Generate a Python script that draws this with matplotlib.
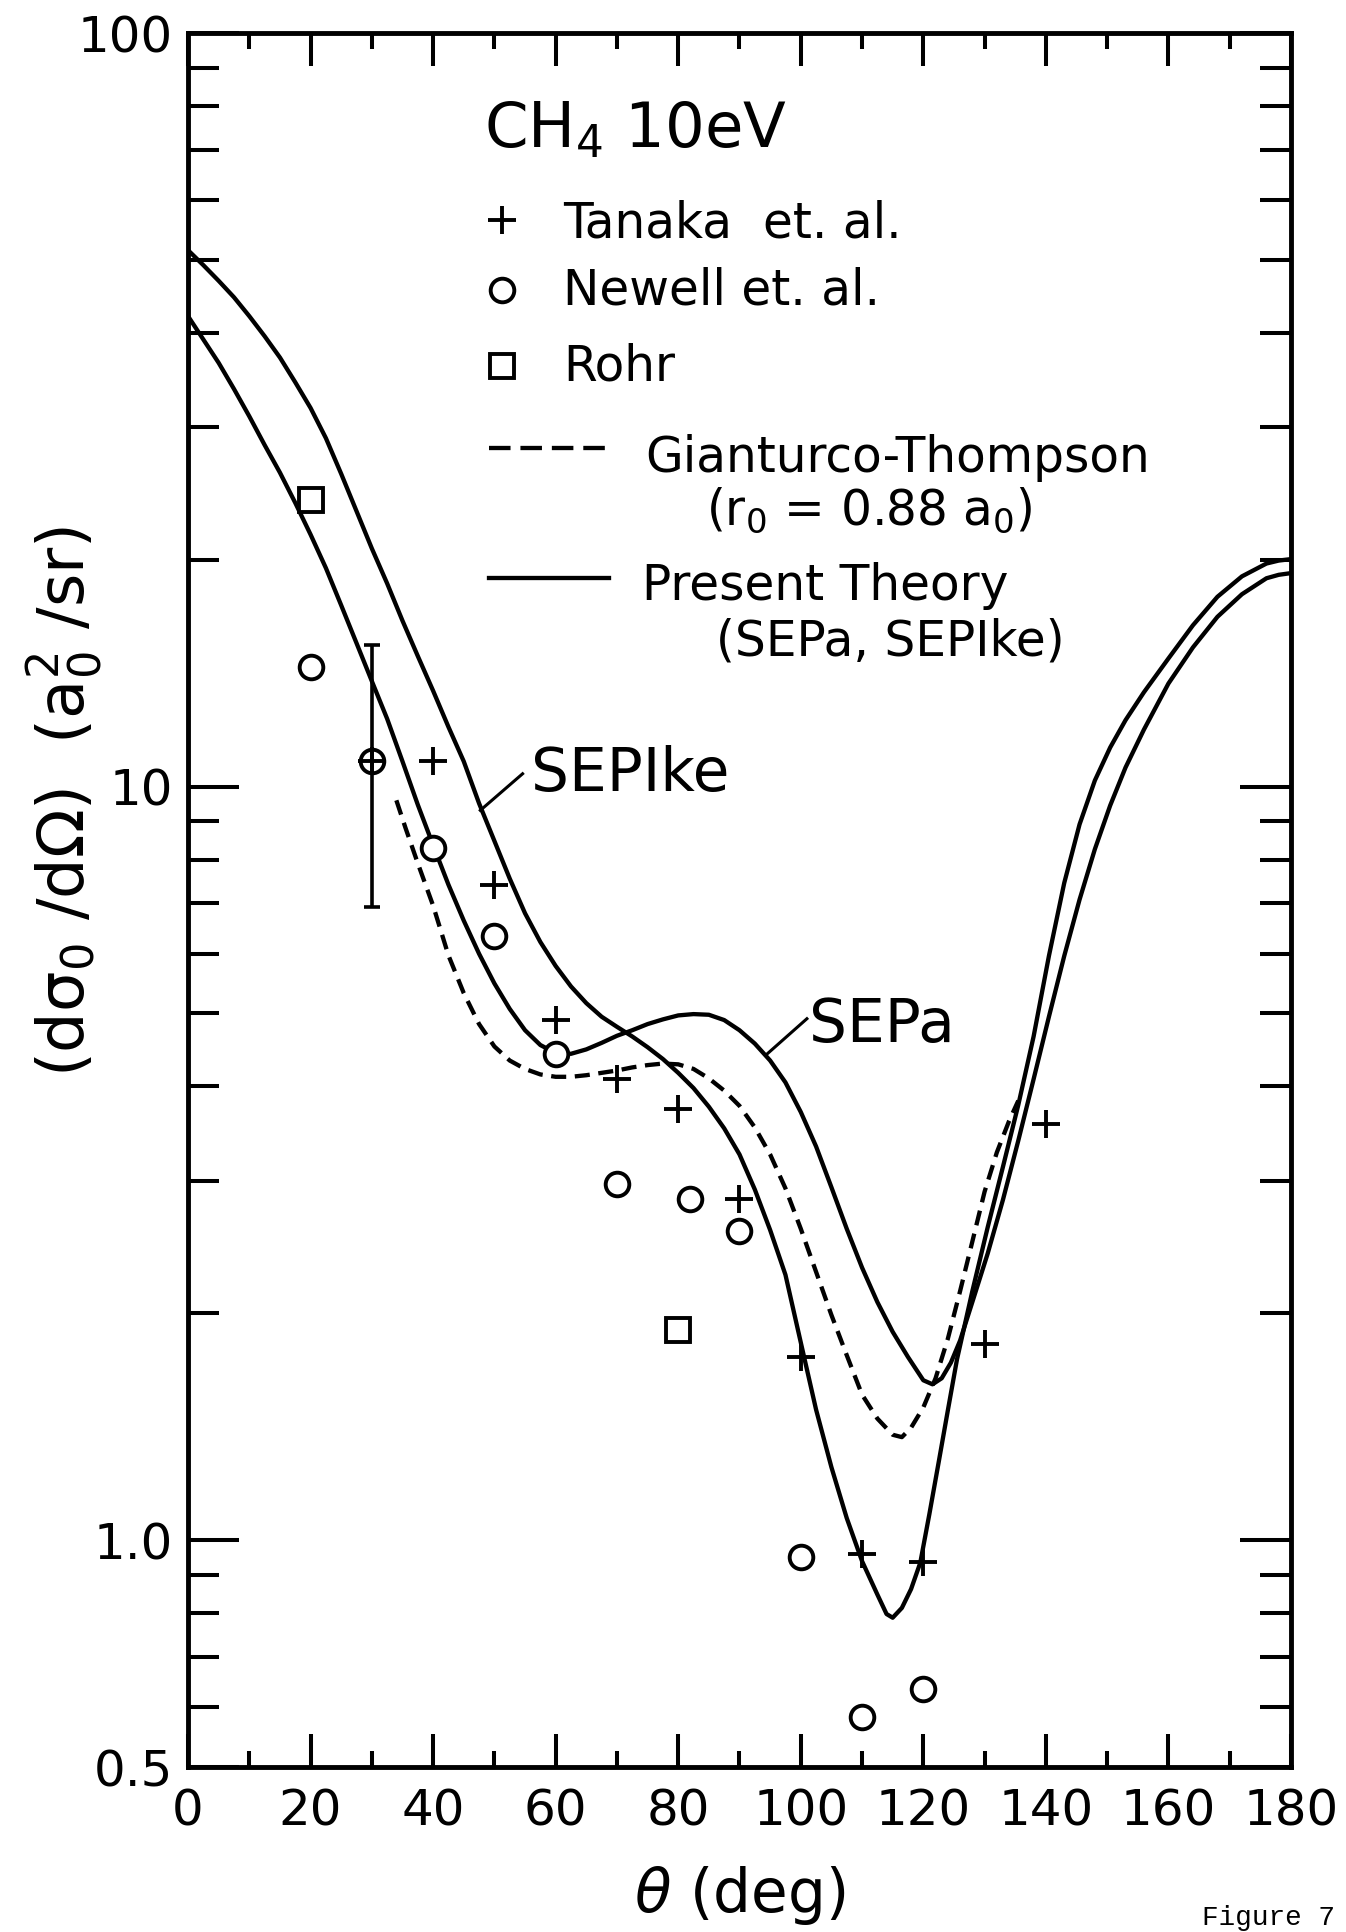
import matplotlib
matplotlib.use('Agg')
import matplotlib.pyplot as plt
from matplotlib.ticker import FixedLocator, NullFormatter

plt.rcParams['font.family'] = ['DejaVu Sans']
plt.rcParams['mathtext.fontset'] = 'dejavusans'

# measured cross sections, theta in deg, dsigma/dOmega in a0^2/sr
TANAKA_THETA = [30, 40, 50, 60, 70, 80, 90, 100, 110, 120, 130, 140]
TANAKA_DCS = [10.8, 10.8, 7.4, 4.9, 4.09, 3.73, 2.84, 1.75, 0.96, 0.935, 1.82, 3.57]

NEWELL_THETA = [20, 30, 40, 50, 60, 70, 82, 90, 100, 110, 120]
NEWELL_DCS = [14.4, 10.8, 8.3, 6.34, 4.42, 2.97, 2.84, 2.57, 0.95, 0.583, 0.634]

# error bar on the Newell point at 30 deg
ERR_THETA = [30]
ERR_DCS = [10.8]
ERR_LOW = [6.92]
ERR_HIGH = [15.4]

ROHR_THETA = [20, 80]
ROHR_DCS = [24.0, 1.90]

# theory curves
SEPIKE_THETA = [0, 2.5, 5, 7.5, 10, 12.5, 15, 17.5, 20, 22.5, 25, 27.5, 30, 32.5, 35,
                37.5, 40, 42.5, 45, 47.5, 50, 52.5, 55, 57.5, 60, 62.5, 65, 67.5, 70,
                72.5, 75, 77.5, 80, 82.5, 85, 87.5, 90, 92.5, 95, 97.5, 100, 102.5,
                105, 107.5, 110, 112.5, 114, 115, 116.5, 118, 119.5, 121, 122.5, 124,
                125.5, 128, 130.5, 133, 135.5, 138, 140.5, 143, 145.5, 148, 150.5, 153,
                156, 160, 164, 168, 172, 176, 178, 180]
SEPIKE_DCS = [51.5, 49.2, 46.9, 44.6, 42.1, 39.6, 37.1, 34.4, 31.8, 29.0, 26.0, 23.2,
              20.7, 18.6, 16.6, 14.9, 13.4, 12.0, 10.8, 9.5, 8.47, 7.55, 6.79, 6.22,
              5.78, 5.43, 5.16, 4.95, 4.80, 4.66, 4.51, 4.35, 4.17, 3.98, 3.76, 3.52,
              3.25, 2.92, 2.58, 2.25, 1.83, 1.49, 1.25, 1.07, 0.938, 0.847, 0.798,
              0.789, 0.813, 0.861, 0.933, 1.084, 1.268, 1.486, 1.738, 2.14, 2.60, 3.13,
              3.78, 4.66, 5.96, 7.45, 8.91, 10.19, 11.27, 12.25, 13.34, 14.79, 16.37,
              17.86, 19.01, 19.77, 19.95, 20.04]

SEPA_THETA = [0, 2.5, 5, 7.5, 10, 12.5, 15, 17.5, 20, 22.5, 25, 27.5, 30, 32.5, 35,
              37.5, 40, 42.5, 45, 47.5, 50, 52.5, 55, 57.5, 60, 62.5, 65, 67.5, 70,
              72.5, 75, 77.5, 80, 82.5, 85, 87.5, 90, 92.5, 95, 97.5, 100, 102.5, 105,
              107.5, 110, 112.5, 115, 117.5, 120, 121.5, 123, 124.5, 126, 128, 130.5,
              133, 135.5, 138, 140.5, 143, 145.5, 148, 150.5, 153, 156, 160, 164, 168,
              172, 176, 178, 180]
SEPA_DCS = [42.1, 39.2, 36.5, 33.7, 31.0, 28.4, 26.1, 23.8, 21.6, 19.5, 17.4, 15.5,
            13.8, 12.3, 10.8, 9.46, 8.36, 7.41, 6.64, 6.0, 5.48, 5.07, 4.75, 4.54, 4.43,
            4.42, 4.48, 4.57, 4.67, 4.75, 4.84, 4.91, 4.97, 4.99, 4.98, 4.90, 4.75,
            4.56, 4.33, 4.05, 3.70, 3.33, 2.94, 2.59, 2.30, 2.07, 1.89, 1.75, 1.63,
            1.61, 1.64, 1.72, 1.84, 2.07, 2.40, 2.83, 3.39, 4.09, 4.95, 5.96, 7.08,
            8.26, 9.44, 10.6, 11.9, 13.7, 15.3, 16.8, 18.0, 18.9, 19.1, 19.2]

GT_THETA = [34, 35.5, 37.5, 40, 42.5, 45, 47.5, 50, 52.5, 55, 57.5, 60, 62.5, 65, 67.5,
            70, 72.5, 75, 77.5, 80, 82.5, 85, 87.5, 90, 92.5, 95, 97.5, 100, 102.5,
            105, 107.5, 110, 112.5, 115, 116.5, 118, 120, 122, 124, 126, 128, 130,
            132, 134, 135.5]
GT_DCS = [9.59, 8.81, 7.91, 6.95, 5.97, 5.32, 4.84, 4.52, 4.33, 4.22, 4.15, 4.12, 4.12,
          4.14, 4.17, 4.20, 4.24, 4.27, 4.29, 4.28, 4.22, 4.10, 3.95, 3.77, 3.53, 3.25,
          2.93, 2.59, 2.27, 1.99, 1.76, 1.56, 1.45, 1.38, 1.37, 1.41, 1.50, 1.64, 1.85,
          2.14, 2.49, 2.90, 3.27, 3.60, 3.83]

Y_TICKS = [0.5, 1.0, 10, 100]
Y_TICK_LABELS = ['0.5', '1.0', '10', '100']
Y_MINOR = [0.6, 0.7, 0.8, 0.9, 2, 3, 4, 5, 6, 7, 8, 9, 20, 30, 40, 50, 60, 70, 80, 90]
X_TICKS = list(range(0, 181, 20))
X_MINOR = list(range(10, 180, 20))

LW = 3.1
MS = 17
MEW = 2.8
DASH = (3.5, 2.0)
KEY_FS = 35


def plot_chart():
    fig = plt.figure(figsize=(13.46, 19.32), dpi=100)
    ax = fig.add_axes([0.1397, 0.0854, 0.8194, 0.8975])

    ax.set_yscale('log')
    ax.set_xlim(0, 180)
    ax.set_ylim(0.5, 100)

    # theory curves
    ax.plot(SEPIKE_THETA, SEPIKE_DCS, color='black', lw=LW, zorder=2)
    ax.plot(SEPA_THETA, SEPA_DCS, color='black', lw=LW, zorder=2)
    ax.plot(GT_THETA, GT_DCS, color='black', lw=LW, dashes=DASH, zorder=2)

    # experiments
    ax.plot(NEWELL_THETA, NEWELL_DCS, ls='none', marker='o', ms=MS, mfc='white',
            mec='black', mew=MEW, zorder=4)
    ax.plot(ROHR_THETA, ROHR_DCS, ls='none', marker='s', ms=MS, mfc='white',
            mec='black', mew=MEW, zorder=4)
    yerr = [[v - lo for v, lo in zip(ERR_DCS, ERR_LOW)],
            [hi - v for v, hi in zip(ERR_DCS, ERR_HIGH)]]
    ax.errorbar(ERR_THETA, ERR_DCS, yerr=yerr, fmt='none', ecolor='black',
                elinewidth=2.6, capsize=6, capthick=2.6, zorder=5)
    ax.plot(TANAKA_THETA, TANAKA_DCS, ls='none', marker='+', ms=19.5, mec='black',
            mew=MEW, zorder=6)

    # curve labels with pointers
    ax.plot([47.7, 54.6], [9.3, 10.4], color='black', lw=2.2)
    ax.text(56, 9.88, 'SEPIke', fontsize=43, va='baseline', ha='left')
    ax.plot([94.4, 101.0], [4.41, 4.92], color='black', lw=2.2)
    ax.text(101.3, 4.58, 'SEPa', fontsize=43, va='baseline', ha='left')

    # key drawn inside the frame
    tr = ax.transAxes
    ax.text(0.2684, 0.9337, 'CH$_4$ 10eV', transform=tr, fontsize=45, va='baseline')
    ax.plot([0.2847], [0.8922], transform=tr, marker='+', ms=19.5, mec='black',
            mew=MEW, clip_on=False)
    ax.text(0.340, 0.8818, 'Tanaka  et. al.', transform=tr, fontsize=KEY_FS,
            va='baseline')
    ax.plot([0.2847], [0.8518], transform=tr, marker='o', ms=MS, mfc='white',
            mec='black', mew=MEW, clip_on=False)
    ax.text(0.340, 0.8437, 'Newell et. al.', transform=tr, fontsize=KEY_FS,
            va='baseline')
    ax.plot([0.2847], [0.8080], transform=tr, marker='s', ms=MS, mfc='white',
            mec='black', mew=MEW, clip_on=False)
    ax.text(0.340, 0.7999, 'Rohr', transform=tr, fontsize=KEY_FS, va='baseline')
    ax.plot([0.2729, 0.3817], [0.7607, 0.7607], transform=tr, color='black', lw=LW,
            dashes=(5, 2.3))
    ax.text(0.4143, 0.7468, 'Gianturco-Thompson', transform=tr, fontsize=KEY_FS,
            va='baseline')
    ax.text(0.470, 0.7163, '(r$_0$ = 0.88 a$_0$)', transform=tr, fontsize=KEY_FS,
            va='baseline')
    ax.plot([0.2729, 0.3817], [0.6857, 0.6857], transform=tr, color='black', lw=LW)
    ax.text(0.4116, 0.6730, 'Present Theory', transform=tr, fontsize=KEY_FS,
            va='baseline')
    ax.text(0.4787, 0.6413, '(SEPa, SEPIke)', transform=tr, fontsize=KEY_FS,
            va='baseline')

    # axes frame and ticks
    for side in ax.spines.values():
        side.set_linewidth(3.5)
    ax.set_xticks(X_TICKS)
    ax.set_xticklabels([str(t) for t in X_TICKS])
    ax.xaxis.set_minor_locator(FixedLocator(X_MINOR))
    ax.set_yticks(Y_TICKS)
    ax.set_yticklabels(Y_TICK_LABELS)
    ax.yaxis.set_minor_locator(FixedLocator(Y_MINOR))
    ax.yaxis.set_minor_formatter(NullFormatter())
    ax.tick_params(which='both', direction='in', top=True, right=True, width=2.9,
                   labelsize=36)
    ax.tick_params(axis='x', which='major', length=24, pad=15)
    ax.tick_params(axis='x', which='minor', length=11.5)
    ax.tick_params(axis='y', which='major', length=37, pad=11)
    ax.tick_params(axis='y', which='minor', length=22)

    ax.set_xlabel(r'$\theta$ (deg)', fontsize=43, labelpad=20)
    fig.text(0.0475, 0.5854, '(dσ$_0$ /dΩ)  (a$_0^2$ /sr)', rotation=90, fontsize=46,
             ha='center', va='center')
    fig.text(0.893, 0.0036, 'Figure 7', family=['Liberation Mono', 'DejaVu Sans Mono'],
             fontsize=20, va='baseline')

    fig.savefig('out.png', dpi=100)


if __name__ == '__main__':
    plot_chart()
